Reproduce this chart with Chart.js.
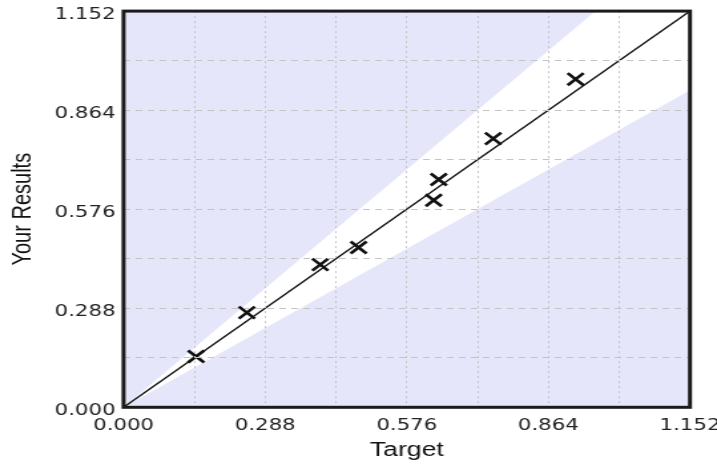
<!DOCTYPE html>
<html><head><meta charset="utf-8">
<script src="https://cdn.jsdelivr.net/npm/chart.js@4.4.1/dist/chart.umd.min.js"></script>
<style>
html,body{margin:0;padding:0;background:#fff;overflow:hidden;width:717px;height:466px;}
#wrap{width:539px;height:466px;transform:scaleX(1.33024);transform-origin:0 0;}
canvas{display:block;}
</style></head><body>
<div id="wrap"><canvas id="c" width="539" height="466"></canvas></div>
<script>
const targetValues = [0.1475, 0.2507, 0.400, 0.478, 0.6307, 0.641, 0.7517, 0.9193];
const resultValues = [0.1478, 0.2753, 0.4147, 0.4646, 0.602, 0.6624, 0.7814, 0.954];
const axisTickValues = [0, 0.144, 0.288, 0.432, 0.576, 0.72, 0.864, 1.008, 1.152];
const axisTickLabels = ['0.000', '', '0.288', '', '0.576', '', '0.864', '', '1.152'];
const axisMin = 0, axisMax = 1.152;
const idealLineX = [0, 1.152];
const idealLineY = [0, 1.152];
const upperBandX = [0, 0.96];
const upperBandY = [0, 1.152];
const lowerBandX = [0, 1.152];
const lowerBandY = [0, 0.9216];
const xTitle = 'Target';
const yTitle = 'Your Results';

const pts = (xs, ys) => xs.map((x, i) => ({x: x, y: ys[i]}));
const LAV = '#e6e6fa';

const framePlugin = {
  id: 'frame',
  afterDraw(chart) {
    const {ctx, chartArea: a} = chart;
    ctx.save();
    ctx.strokeStyle = '#1a1a1a';
    ctx.lineWidth = 3;
    ctx.strokeRect(a.left, a.top, a.right - a.left, a.bottom - a.top);
    ctx.restore();
  }
};

function tickSetup(scale) {
  scale.ticks = axisTickValues.map(v => ({value: v}));
}

new Chart(document.getElementById('c'), {
  type: 'scatter',
  data: {
    datasets: [
      {
        data: pts(targetValues, resultValues),
        pointStyle: 'crossRot',
        pointRadius: 8.5,
        borderColor: '#111',
        borderWidth: 2.6,
        showLine: false
      },
      {
        data: pts(idealLineX, idealLineY),
        showLine: true,
        borderColor: '#111',
        borderWidth: 1.4,
        pointRadius: 0,
        fill: false
      },
      {
        data: pts(upperBandX, upperBandY),
        showLine: true,
        borderColor: 'rgba(0,0,0,0)',
        borderWidth: 0,
        pointRadius: 0,
        backgroundColor: LAV,
        fill: 'end'
      },
      {
        data: pts(lowerBandX, lowerBandY),
        showLine: true,
        borderColor: 'rgba(0,0,0,0)',
        borderWidth: 0,
        pointRadius: 0,
        backgroundColor: LAV,
        fill: 'start'
      }
    ]
  },
  options: {
    responsive: false,
    devicePixelRatio: 1,
    animation: false,
    events: [],
    layout: {padding: {left: 0, right: 20.3, top: 7.3, bottom: 0}},
    plugins: {legend: {display: false}, tooltip: {enabled: false}},
    scales: {
      x: {
        type: 'linear', min: axisMin, max: axisMax,
        afterBuildTicks: tickSetup,
        afterFit(s) { s.height = 58.7; s.paddingLeft = 0; s.paddingRight = 0; },
        ticks: {
          autoSkip: false, maxRotation: 0, padding: 9,
          color: '#222', font: {family: 'DejaVu Sans', size: 16},
          callback: (v, i) => axisTickLabels[i]
        },
        grid: {color: '#c4c4c4', lineWidth: 1, drawTicks: false, z: 1},
        border: {display: false, dash: [2, 3]},
        title: {display: true, text: xTitle, color: '#111',
          font: {family: 'Liberation Sans', size: 20}, padding: {top: 0, bottom: 4}}
      },
      y: {
        type: 'linear', min: axisMin, max: axisMax,
        afterBuildTicks: tickSetup,
        afterFit(s) { s.width = 92.9; s.paddingTop = 0; s.paddingBottom = 0; },
        ticks: {
          autoSkip: false, padding: 6, labelOffset: 4,
          color: '#222', font: {family: 'DejaVu Sans', size: 16},
          callback: (v, i) => axisTickLabels[i]
        },
        grid: {color: '#c4c4c4', lineWidth: 1, drawTicks: false, z: 1},
        border: {display: false, dash: [5, 4]},
        title: {display: true, text: yTitle, color: '#111',
          font: {family: 'Liberation Sans', size: 20}, padding: {top: 5, bottom: 0}}
      }
    }
  },
  plugins: [framePlugin]
});
</script>
</body></html>
